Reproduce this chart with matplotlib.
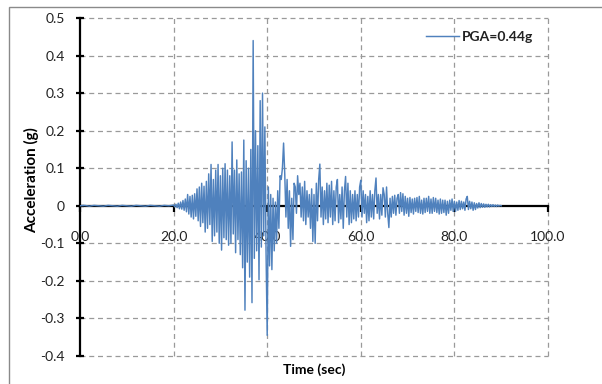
import numpy as np
import matplotlib
matplotlib.use("Agg")
import matplotlib.pyplot as plt
from matplotlib.patches import Rectangle

plt.rcParams['font.family'] = ['Lato', 'DejaVu Sans']
plt.rcParams['axes.unicode_minus'] = False

# Quiet pre-event record, sampled every 1 s (0 .. 19 s)
pre_dt = 1.0
pre_acc = [0.0, 0.001, -0.001, 0.001, 0.0, -0.001, 0.001, 0.0, -0.001, 0.001,
           0.0, -0.001, 0.001, 0.0, -0.001, 0.001, 0.0, -0.001, 0.001, 0.0]

# Strong-motion record from 20 s, sampled every 0.25 s (g)
main_t0 = 20.0
main_dt = 0.25
main_acc = [
    0.002, -0.003, 0.004, -0.005,    # 20 s
    0.007, -0.008, 0.010, -0.009,    # 21
    0.014, -0.012, 0.018, -0.016,    # 22
    0.030, -0.022, 0.025, -0.030,    # 23
    0.028, -0.035, 0.032, -0.028,    # 24
    0.045, -0.040, 0.050, -0.055,    # 25
    0.060, -0.045, 0.052, -0.070,    # 26
    0.065, -0.060, 0.085, -0.050,    # 27
    0.110, -0.095, 0.070, -0.080,    # 28
    0.095, -0.070, 0.110, -0.100,    # 29
    0.080, -0.118, 0.100, -0.085,    # 30
    0.112, -0.090, 0.095, -0.105,    # 31
    0.080, -0.100, 0.170, -0.075,    # 32
    0.095, -0.125, 0.122, -0.090,    # 33
    0.085, -0.130, 0.090, -0.165,    # 34
    0.175, -0.278, 0.120, -0.150,    # 35
    0.100, -0.190, 0.150, -0.258,    # 36
    0.440, -0.140, 0.200, -0.120,    # 37
    0.160, -0.197, 0.280, -0.110,    # 38
    0.300, -0.080, 0.210, -0.120,    # 39
    -0.345, 0.050, -0.160, 0.030,    # 40
    -0.170, 0.020, -0.120, 0.010,    # 41
    -0.100, 0.040, -0.060, 0.080,    # 42
    0.070, 0.100, 0.167, 0.085,      # 43
    -0.030, 0.070, -0.060, 0.040,    # 44
    -0.108, 0.020, -0.090, 0.060,    # 45
    0.050, -0.020, 0.080, 0.030,     # 46
    0.060, -0.030, 0.050, -0.040,    # 47
    0.065, -0.050, 0.040, -0.030,    # 48
    0.030, -0.060, 0.045, -0.095,    # 49
    0.030, -0.100, 0.060, -0.040,    # 50
    0.070, 0.111, -0.030, 0.050,     # 51
    -0.050, 0.040, -0.035, 0.060,    # 52
    -0.045, 0.055, -0.030, 0.065,    # 53
    -0.050, 0.040, -0.040, 0.050,    # 54
    0.070, -0.045, 0.030, -0.035,    # 55
    0.050, -0.060, 0.040, 0.078,     # 56
    -0.030, 0.060, -0.050, 0.040,    # 57
    -0.045, 0.030, -0.035, 0.040,    # 58
    -0.040, 0.030, -0.030, 0.050,    # 59
    0.068, -0.030, 0.040, -0.020,    # 60
    0.030, -0.045, 0.025, -0.040,    # 61
    0.040, -0.030, 0.030, -0.035,    # 62
    0.040, 0.074, -0.020, 0.030,     # 63
    -0.035, 0.030, -0.025, 0.048,    # 64
    0.030, -0.030, 0.050, -0.020,    # 65
    -0.058, 0.020, -0.030, 0.025,    # 66
    -0.020, 0.028, -0.025, 0.020,    # 67
    0.030, -0.020, 0.035, -0.015,    # 68
    0.032, -0.025, 0.025, -0.020,    # 69
    0.020, -0.028, 0.022, -0.018,    # 70
    0.018, -0.022, 0.020, -0.015,    # 71
    0.022, -0.018, 0.025, -0.020,    # 72
    0.015, -0.022, 0.020, -0.018,    # 73
    0.020, -0.015, 0.025, -0.020,    # 74
    0.018, -0.020, 0.022, -0.015,    # 75
    0.020, -0.018, 0.015, -0.022,    # 76
    0.018, -0.020, 0.015, -0.018,    # 77
    0.015, -0.025, 0.012, -0.020,    # 78
    0.015, -0.012, 0.018, -0.015,    # 79
    0.012, -0.015, 0.010, -0.012,    # 80
    0.014, -0.010, 0.012, -0.008,    # 81
    0.010, -0.012, 0.018, 0.025,     # 82
    -0.010, 0.012, -0.008, 0.010,    # 83
    -0.012, 0.008, -0.010, 0.006,    # 84
    -0.006, 0.008, -0.005, 0.006,    # 85
    -0.004, 0.005, -0.004, 0.004,    # 86
    -0.003, 0.004, -0.003, 0.003,    # 87
    -0.002, 0.003, -0.002, 0.002,    # 88
    -0.002, 0.002, -0.001, 0.001,    # 89
    0.0,                             # 90
]

series_label = "PGA=0.44g"
x_ticks = [0, 20, 40, 60, 80, 100]
x_tick_labels = ["0.0", "20.0", "40.0", "60.0", "80.0", "100.0"]
y_ticks = [0.5, 0.4, 0.3, 0.2, 0.1, 0.0, -0.1, -0.2, -0.3, -0.4]
y_tick_labels = ["0.5", "0.4", "0.3", "0.2", "0.1", "0", "-0.1", "-0.2", "-0.3", "-0.4"]

pre_time = np.arange(len(pre_acc)) * pre_dt
main_time = main_t0 + np.arange(len(main_acc)) * main_dt
time = np.concatenate([pre_time, main_time])
acc = np.concatenate([pre_acc, main_acc])

W, H = 602, 384
fig = plt.figure(figsize=(W / 100, H / 100), dpi=100)
fig.patch.set_facecolor("white")

# thin chart-area border (left and top edges visible)
fig.patches.append(Rectangle((9 / W, -0.05), 1.2, (H - 7) / H + 0.05,
                             transform=fig.transFigure, fill=False,
                             edgecolor="#8a8a8a", linewidth=1.0))

ax = fig.add_axes([80 / W, 1 - 356 / H, (548 - 80) / W, (356 - 18) / H])
ax.set_xlim(0, 100)
ax.set_ylim(-0.4, 0.5)

ax.plot(time, acc, color="#4F81BD", linewidth=1.05, zorder=4, label=series_label)

# dashed grid, including the plot-area edges
for yv in y_ticks:
    if yv != 0:
        ax.axhline(yv, color="#9a9a9a", linestyle=(0, (4, 3)), linewidth=0.9,
                   zorder=1, clip_on=False)
for xv in x_ticks[1:]:
    ax.axvline(xv, color="#9a9a9a", linestyle=(0, (4, 3)), linewidth=0.9,
               zorder=1, clip_on=False)

for side in ("top", "right"):
    ax.spines[side].set_visible(False)
ax.spines["bottom"].set_position(("data", 0))
ax.spines["bottom"].set_linewidth(1.6)
ax.spines["left"].set_linewidth(1.6)
ax.spines["bottom"].set_zorder(3)
ax.spines["left"].set_zorder(3)

ax.set_xticks(x_ticks)
ax.set_xticklabels(x_tick_labels)
ax.set_yticks(y_ticks)
ax.set_yticklabels(y_tick_labels)
ax.tick_params(axis="x", direction="out", length=4, width=1.6, pad=14,
               labelsize=10, colors="black", labelcolor="#222222")
ax.tick_params(axis="y", direction="inout", length=6, width=1.6, pad=8,
               labelsize=10, colors="black", labelcolor="#222222")

ax.set_ylabel("Acceleration (g)", fontsize=11, fontweight="bold")
ax.yaxis.set_label_coords(-0.087, 0.52)
ax.set_xlabel("Time (sec)", fontsize=10, fontweight="bold")
ax.xaxis.set_label_coords(0.5, -0.021)

leg = ax.legend(loc="center left", bbox_to_anchor=((426 - 80) / 468, (356 - 37) / 338),
                frameon=False, fontsize=10, handlelength=2.4, handletextpad=0.15,
                borderpad=0, borderaxespad=0)
for txt in leg.get_texts():
    txt.set_fontweight("bold")
    txt.set_color("#222222")

fig.savefig("out.png", dpi=100)
